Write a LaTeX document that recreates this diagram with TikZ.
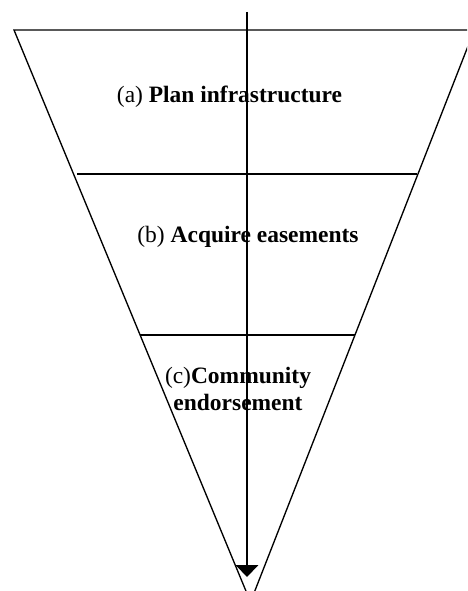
\documentclass[tikz,border=0pt]{standalone}
\usepackage{fontspec}
\setmainfont{Liberation Serif}
\usetikzlibrary{arrows.meta}
\begin{document}
\begin{tikzpicture}[x=0.75pt,y=-0.75pt,
  edge/.style={line width=1pt, black},
  lbl/.style={font=\fontsize{17.6}{20.25}\selectfont, anchor=base, inner sep=0pt}]
\useasboundingbox (0,0) rectangle (467,591);
\clip (0,0) rectangle (467,591);
% funnel corners
\coordinate (TL) at (14,30);
\coordinate (TR) at (474.3,30);
\coordinate (AP) at (250.5,602);
\coordinate (BL) at (77,174);
\coordinate (BR) at (417,174);
\coordinate (CL) at (140,335);
\coordinate (CR) at (355,335);
\coordinate (ArrS) at (247,12);
\coordinate (ArrE) at (247,577);
% funnel outline
\draw[edge, line join=miter] (AP) -- (TL) -- (TR) -- cycle;
\draw[edge] (BL) -- (BR);
\draw[edge] (CL) -- (CR);
% labels
\node[lbl] (a) at (229.5,103) {(a) \textbf{Plan infrastructure}};
\node[lbl] (b) at (248,243) {(b) \textbf{Acquire easements}};
\node[lbl] (c1) at (238,383) {(c)\textbf{Community}};
\node[lbl] (c2) at (238,410) {\textbf{endorsement}};
% arrow
\draw[edge, -{Triangle[width=17pt,length=9pt]}] (ArrS) -- (ArrE);
\end{tikzpicture}
\end{document}
